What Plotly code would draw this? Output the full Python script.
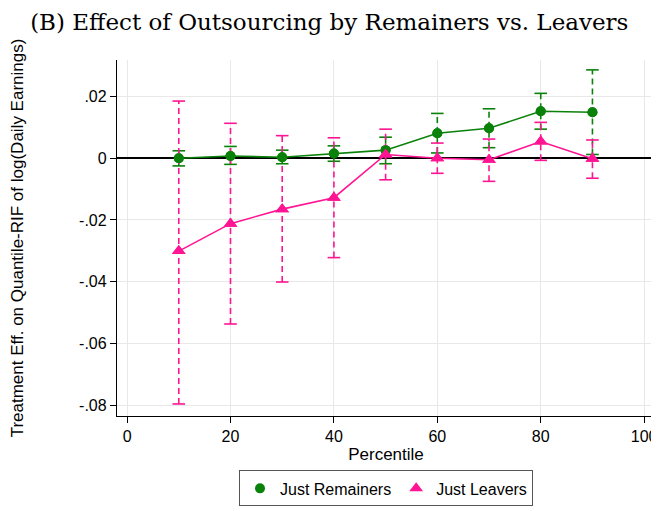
import plotly.graph_objects as go

percentiles = [10, 20, 30, 40, 50, 60, 70, 80, 90]

rem_est = [0.0000, 0.0007, 0.0003, 0.0015, 0.0026, 0.0081, 0.0097, 0.0152, 0.0149]
rem_hi = [0.0024, 0.0038, 0.0026, 0.0040, 0.0068, 0.0145, 0.0160, 0.0210, 0.0286]
rem_lo = [-0.0025, -0.0020, -0.0018, -0.0010, -0.0018, 0.0017, 0.0034, 0.0094, 0.0012]

lea_est = [-0.0301, -0.0212, -0.0165, -0.0128, 0.0012, 0.0000, -0.0005, 0.0054, -0.0002]
lea_hi = [0.0185, 0.0113, 0.0073, 0.0066, 0.0094, 0.0049, 0.0062, 0.0116, 0.0059]
lea_lo = [-0.0796, -0.0537, -0.0401, -0.0322, -0.0070, -0.0049, -0.0075, -0.0007, -0.0065]

y_tickvals = [-0.08, -0.06, -0.04, -0.02, 0, 0.02]
y_ticktext = ["-.08", "-.06", "-.04", "-.02", "0", ".02"]
x_tickvals = [0, 20, 40, 60, 80, 100]

GREEN = "#0a820a"
PINK = "#ff1493"
SANS = "Liberation Sans, Arial, sans-serif"

fig = go.Figure()


def ci_trace(xs, lo, hi, color):
    xx, yy = [], []
    for x, l, h in zip(xs, lo, hi):
        xx += [x, x, None]
        yy += [l, h, None]
    seg = go.Scatter(x=xx, y=yy, mode="lines",
                     line=dict(color=color, width=1.6, dash="6px,4px"),
                     showlegend=False, hoverinfo="skip")
    caps = go.Scatter(x=xs + xs, y=lo + hi, mode="markers",
                      marker=dict(symbol="line-ew-open", size=9, color=color,
                                  line=dict(color=color, width=1.6)),
                      showlegend=False, hoverinfo="skip")
    return [seg, caps]


for t in ci_trace(percentiles, rem_lo, rem_hi, GREEN):
    fig.add_trace(t)
fig.add_trace(go.Scatter(x=percentiles, y=rem_est, mode="lines+markers",
                         line=dict(color=GREEN, width=1.6),
                         marker=dict(symbol="circle", size=10, color=GREEN),
                         showlegend=False))
for t in ci_trace(percentiles, lea_lo, lea_hi, PINK):
    fig.add_trace(t)
fig.add_trace(go.Scatter(x=percentiles, y=lea_est, mode="lines+markers",
                         line=dict(color=PINK, width=1.6),
                         marker=dict(symbol="triangle-up", size=12, color=PINK),
                         showlegend=False))

# legend entries (markers only)
fig.add_trace(go.Scatter(x=percentiles, y=rem_est, mode="markers",
                         marker=dict(symbol="circle", size=10, color=GREEN),
                         name="Just Remainers", hoverinfo="skip"))
fig.add_trace(go.Scatter(x=percentiles, y=lea_est, mode="markers",
                         marker=dict(symbol="triangle-up", size=12, color=PINK),
                         name="Just Leavers", hoverinfo="skip"))

fig.update_layout(
    width=651, height=503,
    margin=dict(l=109, r=4, t=52, b=85),
    paper_bgcolor="white", plot_bgcolor="white",
    title=dict(text="(B) Effect of Outsourcing by Remainers vs. Leavers",
               x=0.034, xanchor="left", y=0.972, yanchor="middle",
               font=dict(family="DejaVu Serif, serif", size=23, color="black")),
    font=dict(family=SANS, size=16, color="black"),
    legend=dict(orientation="h", x=0.5, xanchor="center", y=-0.153, yanchor="top",
                bordercolor="#555555", borderwidth=1, font=dict(size=16),
                itemwidth=30, bgcolor="white"),
    xaxis=dict(range=[-1.95, 102.1], tickvals=x_tickvals, showgrid=True,
               gridcolor="#e8e8e8", gridwidth=1, zeroline=False,
               showline=True, linecolor="black", linewidth=1.3,
               ticks="outside", ticklen=6, tickcolor="black", automargin=False,
               title=dict(text="Percentile", standoff=3, font=dict(size=17))),
    yaxis=dict(range=[-0.0835, 0.0318], tickvals=y_tickvals, ticktext=y_ticktext,
               showgrid=True, gridcolor="#e8e8e8", gridwidth=1,
               zeroline=True, zerolinecolor="black", zerolinewidth=1.6,
               showline=True, linecolor="black", linewidth=1.3,
               ticks="outside", ticklen=6, tickcolor="black", automargin=False,
               title=dict(text="Treatment Eff. on Quantile-RIF of log(Daily Earnings)",
                          standoff=54, font=dict(size=17))),
)

fig.write_html("out.html")
